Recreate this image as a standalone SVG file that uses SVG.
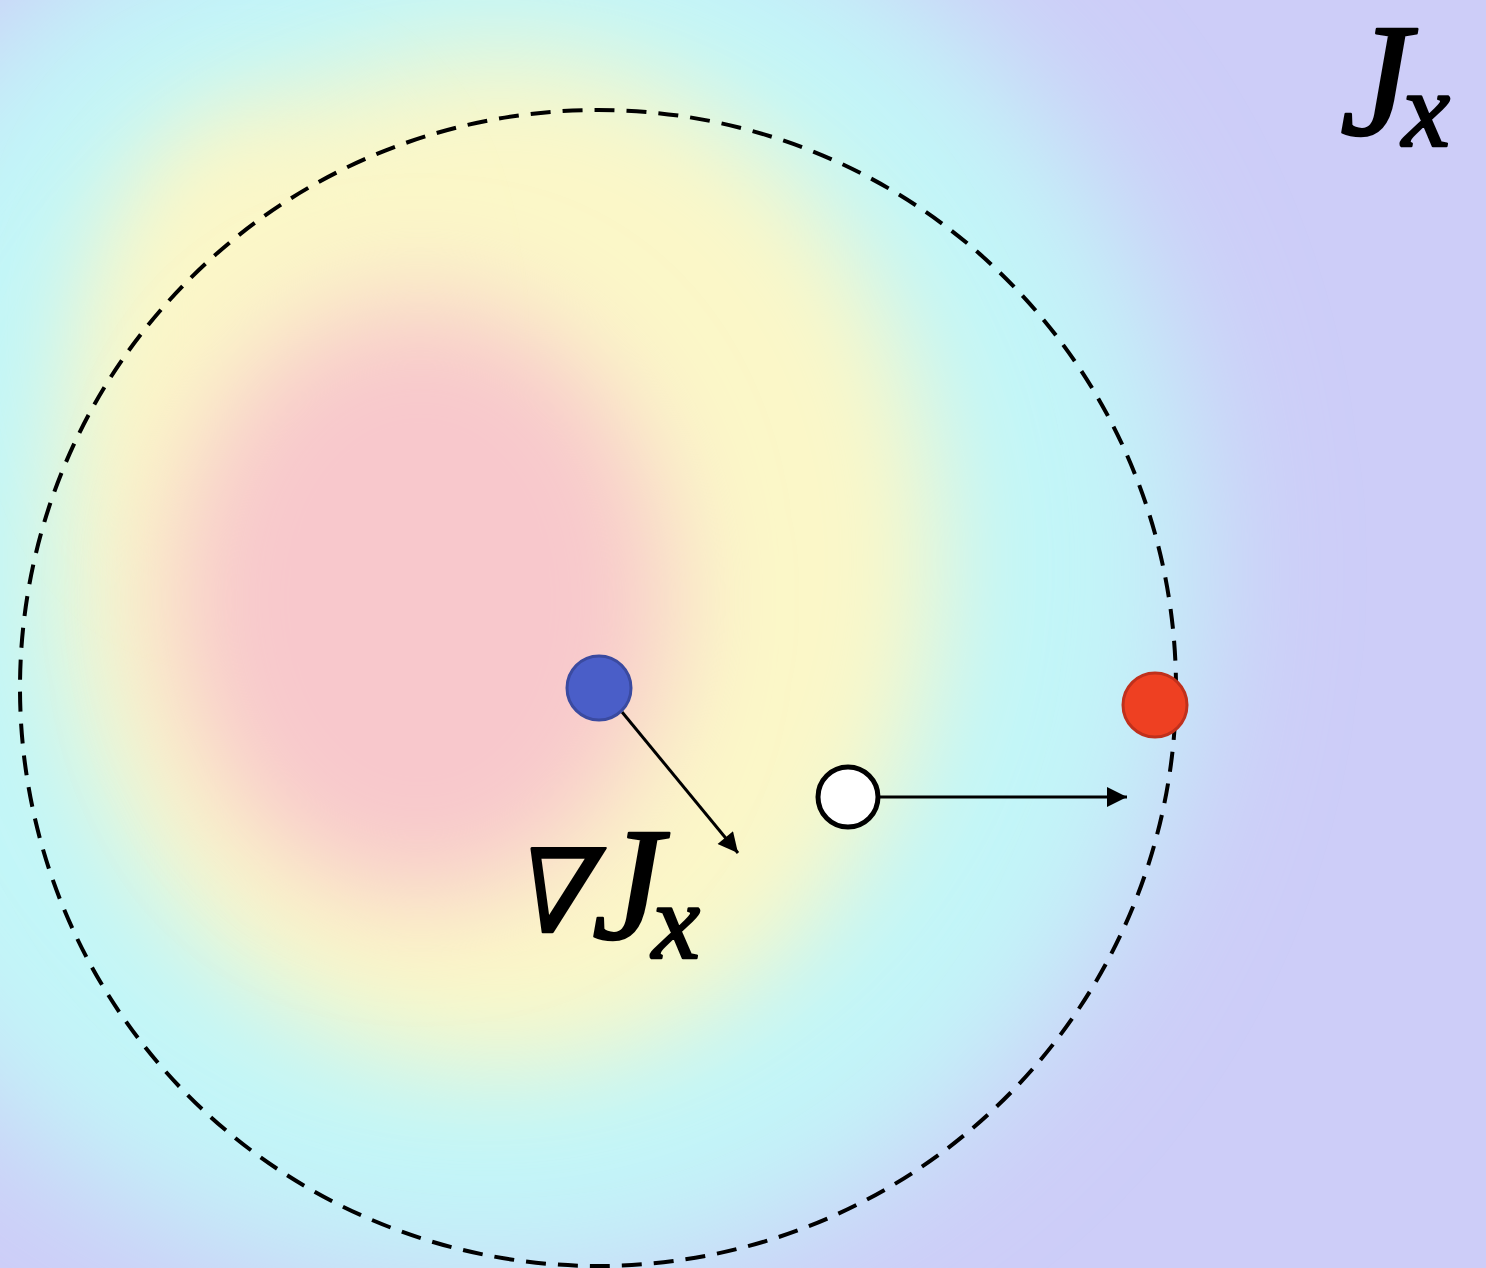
<svg xmlns="http://www.w3.org/2000/svg" width="1486" height="1268" viewBox="0 0 1486 1268">
<style>
.lbl{font-family:"Liberation Serif","DejaVu Serif",serif;font-style:italic;fill:#000;stroke:#000;stroke-width:2.5;stroke-linejoin:round}
.dash{fill:none;stroke:#000;stroke-width:4;stroke-dasharray:20 12}
</style>
<defs>
<filter id="b1" x="-50%" y="-50%" width="200%" height="200%"><feGaussianBlur stdDeviation="70"/></filter>
<filter id="b2" x="-50%" y="-50%" width="200%" height="200%"><feGaussianBlur stdDeviation="55"/></filter>
<marker id="ah2" viewBox="0 0 10 10" refX="10" refY="5" markerWidth="24" markerHeight="20" markerUnits="userSpaceOnUse" orient="auto">
<path d="M0,0 L10,5 L0,10 z" fill="#000"/>
</marker>
</defs>
<g id="heatmap">
<rect width="1486" height="1268" fill="#cdcdf8"/>
<ellipse cx="480" cy="570" rx="720" ry="720" fill="#c2f6f8" filter="url(#b1)"/>
<ellipse cx="500" cy="560" rx="440" ry="510" fill="#fbf7c8" filter="url(#b2)"/>
<ellipse cx="250" cy="330" rx="150" ry="220" fill="#fbf7c8" filter="url(#b2)"/>
<ellipse cx="420" cy="600" rx="250" ry="300" fill="#f8c8cc" filter="url(#b2)"/>
</g>
<g id="boundary"><circle class="dash" cx="598" cy="688" r="578"/></g>
<g id="connectors">
<line x1="622" y1="712" x2="738" y2="853" stroke="#000" stroke-width="3" marker-end="url(#ah2)"/>
<line x1="880" y1="797" x2="1127" y2="797" stroke="#000" stroke-width="3" marker-end="url(#ah2)"/>
</g>
<g id="blue-node"><circle cx="599" cy="688" r="32" fill="#4a5ec8" stroke="#3a4aa0" stroke-width="3"/></g>
<g id="red-node"><circle cx="1155" cy="705" r="32" fill="#ee4022" stroke="#c0301c" stroke-width="3"/></g>
<g id="white-node"><circle cx="848" cy="797" r="30" fill="#fff" stroke="#000" stroke-width="5"/></g>
<g id="label-Jx"><text class="lbl" font-size="160"><tspan x="1340" y="134">J</tspan><tspan x="1402" y="146" font-size="108">x</tspan></text></g>
<g id="label-gradJx">
<text class="lbl" font-size="115" font-style="normal" transform="translate(508,932) skewX(-14)" x="0" y="0">∇</text>
<text class="lbl" font-size="160"><tspan x="592" y="938">J</tspan><tspan x="652" y="958" font-size="108">x</tspan></text>
</g>
</svg>
